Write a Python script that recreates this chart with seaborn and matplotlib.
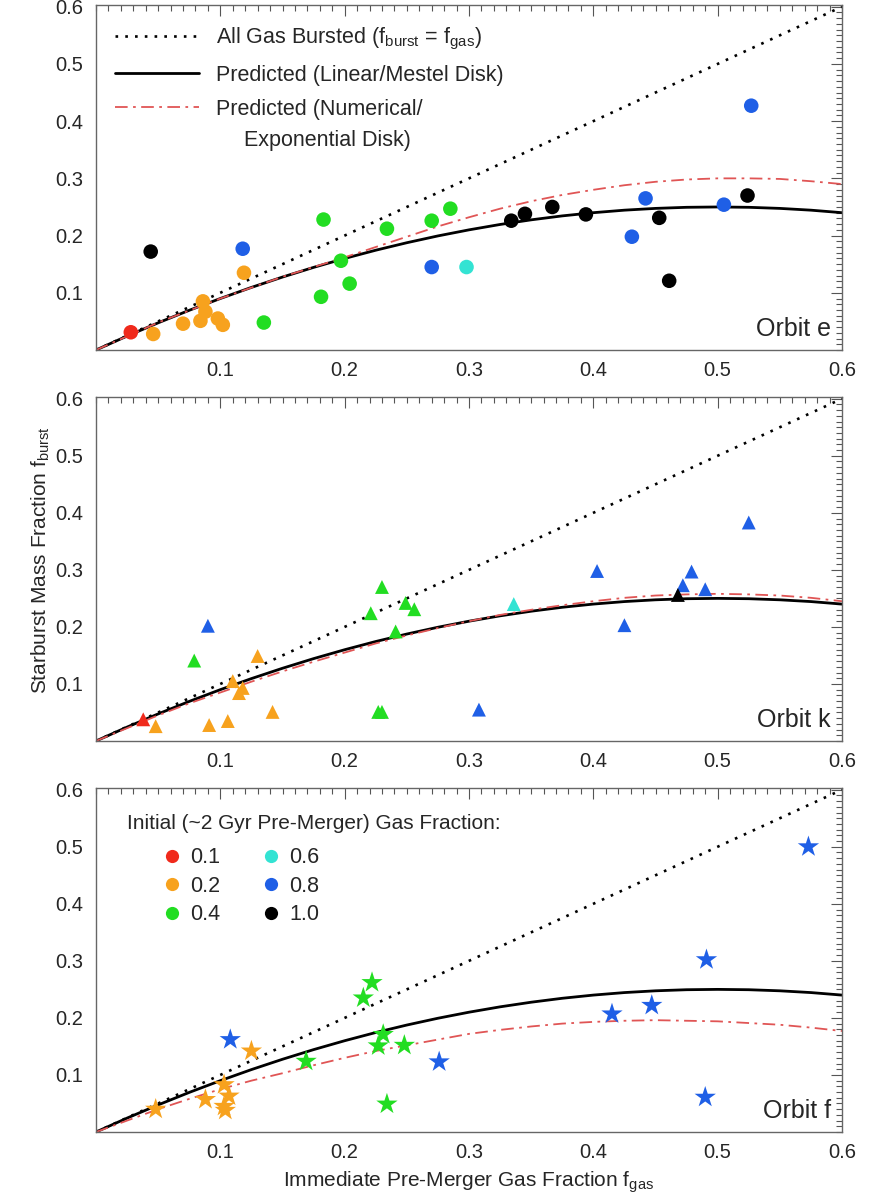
import numpy as np
import pandas as pd
import matplotlib
matplotlib.use("Agg")
import matplotlib.pyplot as plt
from matplotlib.ticker import MultipleLocator, FixedLocator
from matplotlib.lines import Line2D
import seaborn as sns

sns.set_style("white")
plt.rcParams['font.family'] = ['Liberation Sans', 'DejaVu Sans']
plt.rcParams['mathtext.fontset'] = 'custom'
plt.rcParams['mathtext.rm'] = 'Liberation Sans'
plt.rcParams['mathtext.it'] = 'Liberation Sans'

# ---------------- data ----------------
init_levels = [0.1, 0.2, 0.4, 0.6, 0.8, 1.0]
level_colors = ['#f02a1c', '#f7a21e', '#22dd22', '#33e3d3', '#1f5fe6', '#000000']

# Orbit e (circles)
e_fgas = [0.028,
          0.046, 0.070, 0.086, 0.088, 0.084, 0.098, 0.102, 0.119,
          0.135, 0.181, 0.183, 0.197, 0.204, 0.234, 0.270, 0.285,
          0.298,
          0.118, 0.270, 0.431, 0.442, 0.505, 0.527,
          0.044, 0.334, 0.345, 0.367, 0.394, 0.453, 0.461, 0.524]
e_fburst = [0.031,
            0.028, 0.046, 0.085, 0.067, 0.051, 0.055, 0.044, 0.135,
            0.048, 0.093, 0.228, 0.156, 0.116, 0.212, 0.226, 0.247,
            0.145,
            0.177, 0.145, 0.198, 0.265, 0.254, 0.427,
            0.172, 0.226, 0.238, 0.250, 0.237, 0.231, 0.121, 0.270]
e_init = [0.1] + [0.2] * 8 + [0.4] * 8 + [0.6] + [0.8] * 6 + [1.0] * 8

# Orbit k (triangles)
k_fgas = [0.038,
          0.048, 0.091, 0.106, 0.110, 0.115, 0.118, 0.130, 0.142,
          0.079, 0.221, 0.230, 0.249, 0.256, 0.241, 0.227, 0.230,
          0.336,
          0.090, 0.308, 0.403, 0.425, 0.472, 0.479, 0.490, 0.525,
          0.468]
k_fburst = [0.038,
            0.026, 0.028, 0.035, 0.105, 0.084, 0.093, 0.149, 0.051,
            0.141, 0.224, 0.270, 0.242, 0.231, 0.192, 0.051, 0.051,
            0.240,
            0.202, 0.055, 0.298, 0.203, 0.273, 0.297, 0.266, 0.383,
            0.256]
k_init = [0.1] + [0.2] * 8 + [0.4] * 8 + [0.6] + [0.8] * 8 + [1.0]

# Orbit f (stars)
f_fgas = [0.048, 0.088, 0.103, 0.107, 0.103, 0.104, 0.125,
          0.169, 0.215, 0.222, 0.231, 0.227, 0.248, 0.234,
          0.108, 0.276, 0.415, 0.447, 0.490, 0.491, 0.573]
f_fburst = [0.040, 0.057, 0.083, 0.063, 0.045, 0.038, 0.142,
            0.124, 0.235, 0.262, 0.171, 0.151, 0.152, 0.049,
            0.162, 0.123, 0.207, 0.222, 0.061, 0.302, 0.500]
f_init = [0.2] * 7 + [0.4] * 7 + [0.8] * 7

# model curves
curve_x = [0.0, 0.025, 0.05, 0.075, 0.10, 0.125, 0.15, 0.175, 0.20, 0.225, 0.25, 0.275,
           0.30, 0.325, 0.35, 0.375, 0.40, 0.425, 0.45, 0.475, 0.50, 0.525, 0.55, 0.575, 0.60]
mestel_y = [0.0, 0.0244, 0.0475, 0.0694, 0.090, 0.1094, 0.1275, 0.1444, 0.160, 0.1744,
            0.1875, 0.1994, 0.210, 0.2194, 0.2275, 0.2344, 0.240, 0.2444, 0.2475, 0.2494,
            0.250, 0.2494, 0.2475, 0.2444, 0.240]
expo_e_y = [0.0, 0.024, 0.048, 0.069, 0.090, 0.109, 0.128, 0.145, 0.162, 0.180, 0.198,
            0.216, 0.232, 0.247, 0.260, 0.271, 0.280, 0.288, 0.294, 0.298, 0.300, 0.300,
            0.299, 0.295, 0.290]
expo_k_y = [0.0, 0.0225, 0.045, 0.066, 0.085, 0.104, 0.122, 0.139, 0.155, 0.171, 0.185,
            0.198, 0.210, 0.221, 0.230, 0.238, 0.245, 0.251, 0.255, 0.257, 0.258, 0.257,
            0.255, 0.251, 0.245]
expo_f_y = [0.0, 0.020, 0.040, 0.058, 0.075, 0.090, 0.103, 0.117, 0.130, 0.142, 0.152,
            0.162, 0.172, 0.179, 0.185, 0.190, 0.193, 0.195, 0.196, 0.195, 0.194, 0.191,
            0.188, 0.183, 0.177]
all_x = [0.0, 0.6]
all_y = [0.0, 0.6]

tick_vals = [0.1, 0.2, 0.3, 0.4, 0.5, 0.6]
tick_labels = ['0.1', '0.2', '0.3', '0.4', '0.5', '0.6']

panels = [
    ("Orbit e", e_fgas, e_fburst, e_init, 'o', 110, expo_e_y),
    ("Orbit k", k_fgas, k_fburst, k_init, '^', 100, expo_k_y),
    ("Orbit f", f_fgas, f_fburst, f_init, '*', 260, expo_f_y),
]

# ---------------- figure ----------------
W, H = 877, 1199
fig = plt.figure(figsize=(W / 100, H / 100), dpi=100)
left = 96 / W
width = 746 / W
tops = [5, 397, 788]
bots = [350, 741, 1132]
palette = dict(zip(init_levels, level_colors))

axes = []
for i, (name, xs, ys, inits, mk, sz, expo) in enumerate(panels):
    ax = fig.add_axes([left, 1 - bots[i] / H, width, (bots[i] - tops[i]) / H])
    axes.append(ax)
    cdf = pd.DataFrame({'x': curve_x, 'mestel': mestel_y, 'expo': expo})
    sns.lineplot(x=all_x, y=all_y, ax=ax, color='black', lw=1.9,
                 linestyle=(0, (1, 2.7)), label='All Gas Bursted (f$_{burst}$ = f$_{gas}$)')
    sns.lineplot(data=cdf, x='x', y='mestel', ax=ax, color='black', lw=2.0,
                 label='Predicted (Linear/Mestel Disk)')
    sns.lineplot(data=cdf, x='x', y='expo', ax=ax, color='#e05555', lw=1.3,
                 linestyle=(0, (7, 3, 1.5, 3)), label='Predicted (Numerical/')
    df = pd.DataFrame({'fgas': xs, 'fburst': ys, 'init': inits})
    sns.scatterplot(data=df, x='fgas', y='fburst', hue='init', palette=palette,
                    marker=mk, s=sz, edgecolor='none', linewidth=0, ax=ax,
                    legend=False, zorder=5)
    ax.set_xlim(0, 0.6)
    ax.set_ylim(0, 0.603)
    ax.xaxis.set_major_locator(FixedLocator(tick_vals))
    ax.yaxis.set_major_locator(FixedLocator(tick_vals))
    ax.set_xticklabels(tick_labels)
    ax.set_yticklabels(tick_labels)
    ax.xaxis.set_minor_locator(MultipleLocator(0.01))
    ax.yaxis.set_minor_locator(MultipleLocator(0.01))
    ax.tick_params(which='both', direction='in', top=True, right=True,
                   color='#555555', width=0.8)
    ax.tick_params(which='major', length=8, labelsize=14.5, pad=8)
    ax.tick_params(which='minor', length=4)
    ax.tick_params(axis='y', which='major', pad=9)
    for sp in ax.spines.values():
        sp.set_color('#666666')
        sp.set_linewidth(1.0)
    ax.set_xlabel('')
    ax.set_ylabel('')
    ax.text(0.985, 0.025, name, transform=ax.transAxes, ha='right', va='bottom',
            fontsize=18)
    if i == 0:
        ax.legend(loc='upper left', bbox_to_anchor=(0.025, 0.94), frameon=False,
                  fontsize=15.5, handlelength=3.9, handletextpad=0.8,
                  labelspacing=0.6, borderaxespad=0, borderpad=0)
        ax.text(0.199, 0.606, 'Exponential Disk)', transform=ax.transAxes,
                ha='left', va='center', fontsize=15.5)
    else:
        if ax.get_legend() is not None:
            ax.get_legend().remove()

# panel 3 colour legend
ax3 = axes[2]
ax3.text(0.041, 0.898, 'Initial (~2 Gyr Pre-Merger) Gas Fraction:', transform=ax3.transAxes,
         ha='left', va='center', fontsize=15)
handles = [Line2D([], [], marker='o', linestyle='none', markersize=9.5,
                  markerfacecolor=c, markeredgecolor='none') for c in level_colors]
labels = ['%.1f' % v for v in init_levels]
ax3.legend(handles, labels, loc='upper left', bbox_to_anchor=(0.09, 0.828), ncol=2,
           frameon=False, fontsize=15.5, handlelength=0.8, handletextpad=0.45,
           columnspacing=1.95, labelspacing=0.35, borderaxespad=0, borderpad=0)

fig.text(41 / W, 1 - 560 / H, 'Starburst Mass Fraction f$_{burst}$', rotation=90,
         ha='center', va='center', fontsize=15)
fig.text(469 / W, 1 - 1182 / H, 'Immediate Pre-Merger Gas Fraction f$_{gas}$',
         ha='center', va='center', fontsize=15)

fig.savefig('out.png', dpi=100)
